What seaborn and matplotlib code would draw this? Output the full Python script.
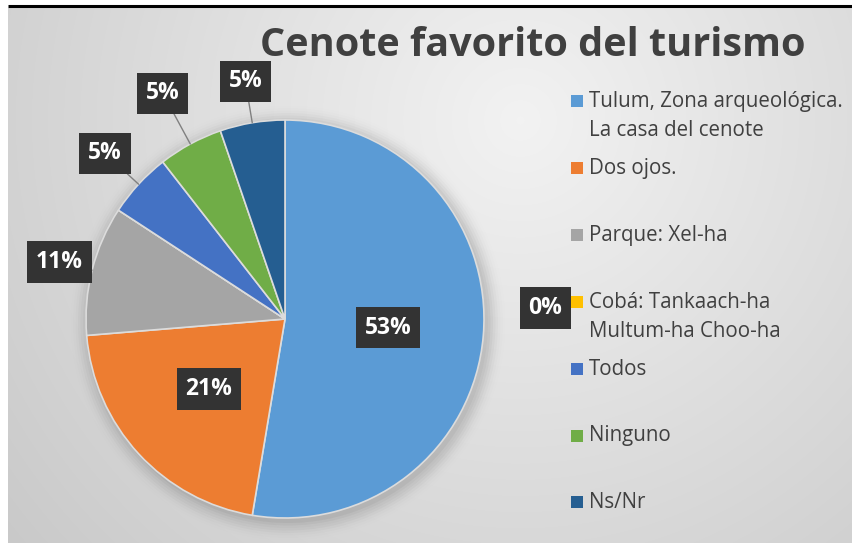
import numpy as np
import matplotlib
matplotlib.use("Agg")
import matplotlib.pyplot as plt
from matplotlib.patches import Rectangle
import seaborn as sns

# Data
categories = ["Tulum, Zona arqueológica.\nLa casa del cenote", "Dos ojos.", "Parque: Xel-ha",
              "Cobá: Tankaach-ha\nMultum-ha Choo-ha", "Todos", "Ninguno", "Ns/Nr"]
counts = [10, 4, 2, 0, 1, 1, 1]
pct_labels = ["53%", "21%", "11%", "0%", "5%", "5%", "5%"]
title = "Cenote favorito del turismo"

# label layout (radius factor, optional angle override in degrees)
label_r = [0.52, 0.52, 1.17, 1.31, 1.23, 1.29, 1.21]
label_ang = [None, None, None, 2.4, None, None, None]

sns.set_style("white")
plt.rcParams['font.family'] = ['Open Sans', 'DejaVu Sans']
colors = sns.color_palette(["#5B9BD5", "#ED7D31", "#A5A5A5", "#FFC000", "#4472C4", "#70AD47", "#255E91"])

W, H = 852, 547
fig = plt.figure(figsize=(W / 100, H / 100), dpi=100)
fig.patch.set_facecolor("white")

# Background overlay axes in pixel coordinates
bg = fig.add_axes([0, 0, 1, 1])
bg.set_xlim(0, W)
bg.set_ylim(H, 0)
bg.axis("off")
xx, yy = np.meshgrid(np.arange(8, W), np.arange(8, 543))
d = np.sqrt((xx - 520) ** 2 + (yy - 120) ** 2)
v = 0.95 - 0.17 * np.clip(d / 700, 0, 1)
bg.imshow(np.dstack([v, v, v]), extent=(8, W, 543, 8), aspect="auto", zorder=0)
bg.plot([8, W], [6, 6], color="black", lw=2.2, solid_capstyle="butt", zorder=2)

# soft shadow behind the pie
for k, a in zip(range(8), np.linspace(0.035, 0.005, 8)):
    bg.add_patch(plt.Circle((288, 323), 200 + k * 2.5, color="black", alpha=a, lw=0, zorder=1))

# Title
bg.text(533, 56, title, fontsize=28.5, fontweight="bold", color="#404040", ha="center", va="baseline", zorder=3)

# Legend drawn manually with even pitch
for i, (lab, col) in enumerate(zip(categories, colors)):
    base = 107 + i * 66.9
    bg.add_patch(Rectangle((571, base - 12), 12, 12, color=col, lw=0, zorder=3))
    for j, line in enumerate(lab.split("\n")):
        bg.text(589, base + j * 29, line, fontsize=14.8, color="#404040", ha="left", va="baseline", zorder=3)

# Pie
cx, cy, R = 285, 319, 199
ax = fig.add_axes([(cx - R) / W, (H - cy - R) / H, 2 * R / W, 2 * R / H])
wedges, _ = ax.pie(counts, colors=colors, startangle=90, counterclock=False, radius=1,
                   wedgeprops=dict(edgecolor="#dcdcdc", linewidth=1.2))
ax.set_xlim(-1, 1)
ax.set_ylim(-1, 1)
ax.set_aspect("equal")
ax.axis("off")

for w, txt, r, ang in zip(wedges, pct_labels, label_r, label_ang):
    mid = np.deg2rad((w.theta1 + w.theta2) / 2 if ang is None else ang)
    pos = (r * np.cos(mid), r * np.sin(mid))
    edge = (np.cos(mid), np.sin(mid))
    arrow = None
    if r > 1 and w.theta2 - w.theta1 > 0:
        arrow = dict(arrowstyle="-", color="#808080", lw=1, shrinkA=0, shrinkB=0)
    ax.annotate(txt, xy=edge, xytext=pos, ha="center", va="center", fontsize=16.5,
                fontweight="bold", color="white", annotation_clip=False,
                bbox=dict(boxstyle="square,pad=0.38", fc="#333333", ec="none"),
                arrowprops=arrow)

fig.savefig("out.png", dpi=100)
